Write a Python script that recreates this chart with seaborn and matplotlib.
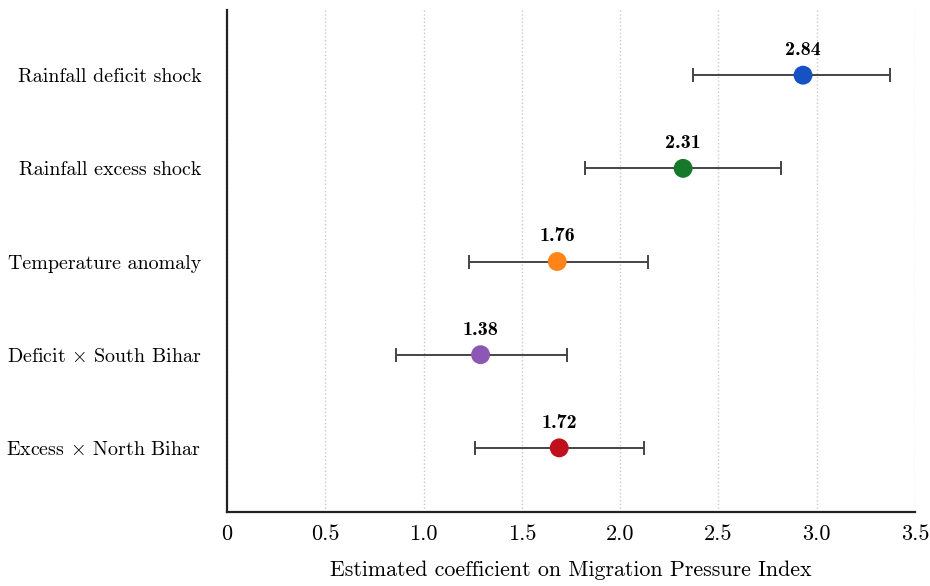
import matplotlib
matplotlib.use("Agg")
import matplotlib.pyplot as plt
import seaborn as sns
import pandas as pd

# data
factors = ["Rainfall deficit shock", "Rainfall excess shock", "Temperature anomaly",
           "Deficit $\\times$ South Bihar", "Excess $\\times$ North Bihar"]
coef = [2.93, 2.32, 1.68, 1.29, 1.69]
ci_low = [2.37, 1.82, 1.23, 0.86, 1.26]
ci_high = [3.37, 2.82, 2.14, 1.73, 2.12]
value_labels = ["2.84", "2.31", "1.76", "1.38", "1.72"]
point_colors = ["#1652c4", "#16782a", "#ff8519", "#8d58b4", "#c0101e"]
x_ticks = [0, 0.5, 1.0, 1.5, 2.0, 2.5, 3.0, 3.5]
x_ticklabels = ["0", "0.5", "1.0", "1.5", "2.0", "2.5", "3.0", "3.5"]

df = pd.DataFrame({"factor": factors, "coef": coef, "lo": ci_low, "hi": ci_high})
df["pos"] = range(len(df))

sns.set_style("white")
plt.rcParams["font.family"] = "serif"
plt.rcParams["font.serif"] = ["cmr10"]
plt.rcParams["mathtext.fontset"] = "cm"
plt.rcParams["axes.formatter.use_mathtext"] = True
plt.rcParams["text.color"] = "black"
plt.rcParams["xtick.color"] = "black"
plt.rcParams["ytick.color"] = "black"
plt.rcParams["axes.labelcolor"] = "black"

fig = plt.figure(figsize=(9.3, 5.86), dpi=100)
ax = fig.add_axes([0.244, 0.126, 0.740, 0.857])

# confidence intervals
ax.errorbar(df["coef"], df["pos"],
            xerr=[df["coef"] - df["lo"], df["hi"] - df["coef"]],
            fmt="none", ecolor="#444444", elinewidth=1.4, capsize=4.7, capthick=1.4, zorder=2)

sns.scatterplot(data=df, x="coef", y="pos", hue="factor", palette=point_colors,
                s=185, edgecolor="none", legend=False, ax=ax, zorder=3)

for i, row in df.iterrows():
    ax.text(row["coef"], row["pos"] - 0.27, value_labels[i], ha="center", va="center",
            fontsize=14.5, fontfamily="cmb10")

ax.set_xlim(0, 3.5)
ax.set_ylim(4.69, -0.70)
ax.set_yticks(df["pos"])
ax.set_yticklabels(factors, fontsize=14.4)
ax.set_xticks(x_ticks)
ax.set_xticklabels(x_ticklabels, fontsize=16)
ax.tick_params(length=0)
ax.tick_params(axis="y", pad=18.5)
ax.tick_params(axis="x", pad=9)
ax.set_xlabel("Estimated coefficient on Migration Pressure Index", fontsize=15.8, labelpad=12)
ax.set_ylabel("")

ax.grid(axis="x", linestyle=":", color="#c8c8c8", linewidth=1)
ax.grid(axis="y", visible=False)
sns.despine(ax=ax)
for s in ["left", "bottom"]:
    ax.spines[s].set_color("#222222")
    ax.spines[s].set_linewidth(1.6)

fig.savefig("out.png", dpi=100)
